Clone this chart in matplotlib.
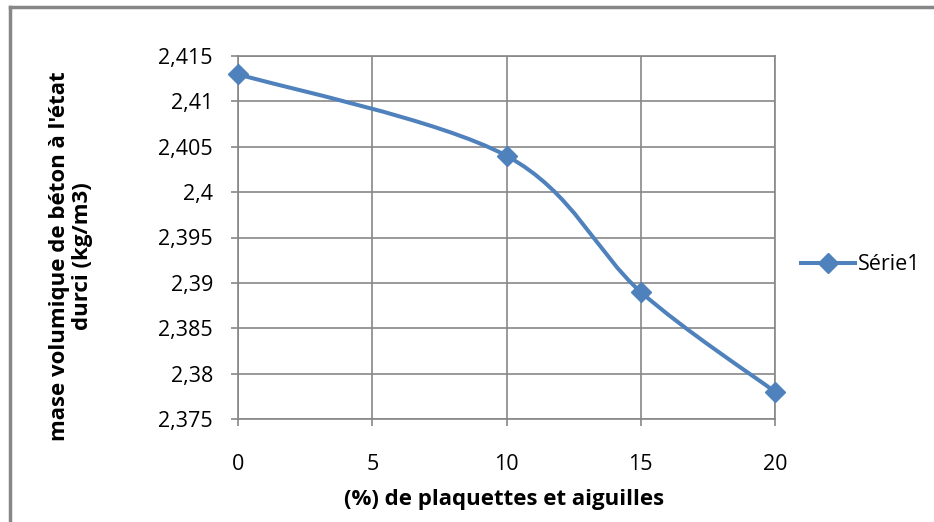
import numpy as np
import matplotlib.pyplot as plt
from matplotlib.path import Path
from matplotlib.patches import PathPatch
from matplotlib.lines import Line2D

plt.rcParams['font.family'] = ['Open Sans', 'DejaVu Sans']

# data
pct = [0, 10, 15, 20]
density = [2.413, 2.404, 2.389, 2.378]
series_name = "Série1"
yticks = [2.375, 2.38, 2.385, 2.39, 2.395, 2.4, 2.405, 2.41, 2.415]
ytick_labels = ["2,375", "2,38", "2,385", "2,39", "2,395", "2,4", "2,405", "2,41", "2,415"]
xticks = [0, 5, 10, 15, 20]

blue = '#4F81BD'
grey = '#878787'

fig = plt.figure(figsize=(9.34, 5.22), dpi=100)
ax = fig.add_axes([238/934, 1-419/522, (775-238)/934, (419-56)/522])

# Excel style smoothed line: cubic Bezier through the points
pts = np.column_stack([pct, density])
verts = [pts[0]]
codes = [Path.MOVETO]
n = len(pts)
for i in range(n-1):
    p_prev = pts[max(i-1, 0)]
    p0 = pts[i]
    p1 = pts[i+1]
    p_next = pts[min(i+2, n-1)]
    c1 = p0 + (p1 - p_prev)/6
    c2 = p1 - (p_next - p0)/6
    verts += [c1, c2, p1]
    codes += [Path.CURVE4]*3
ax.add_patch(PathPatch(Path(verts, codes), fill=False, edgecolor=blue, lw=2.9,
                       capstyle='round', joinstyle='round', zorder=3, clip_on=False))
ax.plot(pct, density, ls='none', marker='D', ms=10.5, color=blue, zorder=4, clip_on=False)

ax.set_xlim(0, 20)
ax.set_ylim(2.375, 2.415)
ax.set_xticks(xticks)
ax.set_yticks(yticks)
ax.set_yticklabels(ytick_labels)
ax.grid(True, color=grey, lw=1.2)
ax.set_axisbelow(True)
for s in ax.spines.values():
    s.set_color(grey)
    s.set_linewidth(1.2)
ax.tick_params(axis='both', colors=grey, labelcolor='black', labelsize=15.5, width=1.2, length=5)
ax.tick_params(axis='y', pad=13)
ax.tick_params(axis='x', pad=20)

# axis titles placed like the original
fig.text(504/934, 1-500/522, "(%) de plaquettes et aiguilles", fontsize=16,
         fontweight='bold', ha='center', va='center')
fig.text(71/934, 1-256/522, "mase volumique de béton à l'état\ndurci (kg/m3)", fontsize=16,
         fontweight='bold', ha='center', va='center', rotation=90, linespacing=1.15,
         multialignment='center')

handle = Line2D([], [], color=blue, lw=2.9, marker='D', ms=10.5)
fig.legend([handle], [series_name], loc='center left', bbox_to_anchor=(790/934, 1-265/522),
           frameon=False, fontsize=15.5, handlelength=2.5, handletextpad=0.15, borderpad=0)

# chart border (only left and top visible in the crop)
fig.add_artist(Line2D([10/934, 10/934], [0, 1-7/522], color=grey, lw=2.5))
fig.add_artist(Line2D([10/934, 1], [1-7/522, 1-7/522], color=grey, lw=2.5))

fig.savefig('out.png', dpi=100)
